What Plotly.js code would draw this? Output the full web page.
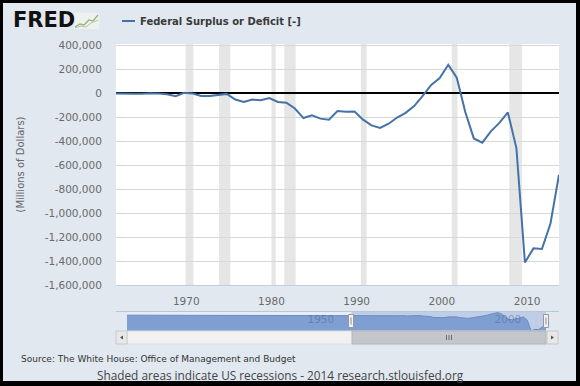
<!DOCTYPE html>
<html><head><meta charset="utf-8">
<script src="https://cdn.plot.ly/plotly-3.0.1.min.js"></script>
<style>html,body{margin:0;padding:0;background:#000;}#chart{width:580px;height:386px;}</style>
</head><body><div id="chart"></div>
<script>
const seriesName = 'Federal Surplus or Deficit [-]';
const yAxisTitle = '(Millions of Dollars)';
const sourceText = 'Source: The White House: Office of Management and Budget';
const footerText = 'Shaded areas indicate US recessions - 2014 research.stlouisfed.org';

// Fiscal years shown in the main chart
const years = [1961,1962,1963,1964,1965,1966,1967,1968,1969,1970,
  1971,1972,1973,1974,1975,1976,1977,1978,1979,1980,
  1981,1982,1983,1984,1985,1986,1987,1988,1989,1990,
  1991,1992,1993,1994,1995,1996,1997,1998,1999,2000,
  2001,2002,2003,2004,2005,2006,2007,2008,2009,2010,
  2011,2012,2013];
// Millions of dollars
const values = [-3335,-7146,-4756,-5915,-1411,-3698,-8643,-25161,3242,-2842,
  -23033,-23373,-14908,-6135,-53242,-73732,-53659,-59185,-40726,-73830,
  -78968,-127977,-207802,-185367,-212308,-221227,-149730,-155178,-152639,-221036,
  -269238,-290321,-255051,-203186,-163952,-107431,-21884,69270,125610,236241,
  128236,-157758,-377585,-412727,-318346,-248181,-160701,-458553,-1412688,-1294373,
  -1299599,-1087024,-680276];

// Earlier history shown only in the navigator strip
const earlyYears = [1901,1905,1910,1915,1919,1920,1925,1930,1935,1940,1942,1943,1944,1945,1946,1947,1950,1955,1959,1960];
const earlyValues = [63,-23,-18,-63,-13363,291,717,738,-2791,-2920,-20503,-54554,-47557,-47553,-15936,4018,-3119,-2993,-12849,301];

const recessionStarts = ['1969-12-01','1973-11-01','1980-01-01','1981-07-01','1990-07-01','2001-03-01','2007-12-01'];
const recessionEnds   = ['1970-11-01','1975-03-01','1980-07-01','1982-11-01','1991-03-01','2001-11-01','2009-06-01'];

const yTickValues = [400000,200000,0,-200000,-400000,-600000,-800000,-1000000,-1200000,-1400000,-1600000];
const xTickYears = [1970,1980,1990,2000,2010];
const navTickYears = [1950,2000];

// ---- geometry helpers (decoration only) ----
const W=580,H=386,ML=116,MR=21,MT=44,MB=41;
const PW=W-ML-MR, PH=H-MT-MB;
const fx = p => (p-ML)/PW;
const fy = p => (H-MB-p)/PH;
function rect(x0,y0,x1,y1,fill,line,layer){
  return {type:'rect',xref:'paper',yref:'paper',x0:fx(x0),x1:fx(x1),y0:fy(y1),y1:fy(y0),
    fillcolor:fill,line:line?{color:line,width:1}:{width:0},layer:layer||'above'};
}
function seg(x0,y0,x1,y1,color,w){
  return {type:'line',xref:'paper',yref:'paper',x0:fx(x0),y0:fy(y0),x1:fx(x1),y1:fy(y1),line:{color:color,width:w},layer:'above'};
}
function poly(pts,fill,color,w,closed){
  let d = pts.map((p,i)=>(i?'L':'M')+fx(p[0]).toFixed(5)+','+fy(p[1]).toFixed(5)).join(' ')+(closed?' Z':'');
  return {type:'path',xref:'paper',yref:'paper',path:d,fillcolor:fill||'rgba(0,0,0,0)',
    line:color?{color:color,width:w||1}:{width:0},layer:'above'};
}

const dateOf = y => y + '-10-01';
const mainDates = years.map(dateOf);
const mainRange = [mainDates[0], mainDates[mainDates.length-1]];
const navYears = earlyYears.concat(years);
const navValues = earlyValues.concat(values);
const navDates = navYears.map(dateOf);
const navRange = [navDates[0], navDates[navDates.length-1]];
const navMin = Math.min(...navValues), navMax = Math.max(...navValues);
const navSpan = navMax - navMin;
const navFloor = navMin - 0.01*navSpan, navTop = navMax + 0.03*navSpan;

const tickFont = {family:'DejaVu Sans', size:10.5, color:'#6a6a6a'};

const traces = [
  {x:mainDates, y:values, xaxis:'x', yaxis:'y', type:'scatter', mode:'lines', name:seriesName,
   line:{color:'#4572a7', width:2}, hoverinfo:'skip'},
  {x:navRange, y:[navFloor,navFloor], xaxis:'x2', yaxis:'y2', type:'scatter', mode:'lines',
   line:{width:0, color:'rgba(0,0,0,0)'}, hoverinfo:'skip', showlegend:false},
  {x:navDates, y:navValues, xaxis:'x2', yaxis:'y2', type:'scatter', mode:'lines', fill:'tonexty',
   fillcolor:'#7f9fd2', line:{color:'#6b8cc4', width:1}, hoverinfo:'skip', showlegend:false}
];

const shapes = [];
// recession bands
recessionStarts.forEach((s,i)=>{
  shapes.push({type:'rect', xref:'x', yref:'y domain', x0:s, x1:recessionEnds[i], y0:0, y1:1,
    fillcolor:'#e6e6e6', line:{width:0}, layer:'below'});
});
// navigator background & selected-range tint
shapes.push({type:'rect', xref:'x2 domain', yref:'y2 domain', x0:0, x1:1, y0:0, y1:1,
  fillcolor:'#e7edf5', line:{width:0}, layer:'below'});
shapes.push({type:'rect', xref:'x2', yref:'y2 domain', x0:mainRange[0], x1:mainRange[1], y0:0, y1:1,
  fillcolor:'rgba(102,133,194,0.3)', line:{width:0}, layer:'below'});
// navigator outline
shapes.push(seg(116,311.5,559,311.5,'#b9c6d6',1));
// handles
shapes.push(rect(348.5,314.5,353.5,327.5,'#f2f2f2','#999999'));
shapes.push(seg(351,317.5,351,324.5,'#8a8a8a',1));
shapes.push(rect(543.5,314.5,548.5,327.5,'#f2f2f2','#999999'));
shapes.push(seg(546,317.5,546,324.5,'#8a8a8a',1));
// scrollbar
shapes.push(rect(127,331,547,344,'#f1f1f1','#dddddd'));
shapes.push(rect(352,331,546,344,'#c3c6cb','#b3b6bb'));
shapes.push(seg(446.5,335,446.5,340,'#555',0.8));
shapes.push(seg(449,335,449,340,'#555',0.8));
shapes.push(seg(451.5,335,451.5,340,'#555',0.8));
shapes.push(rect(116,331,127,344,'#e8e8e8','#c8c8c8'));
shapes.push(poly([[123,335.5],[123,339.5],[120,337.5]],'#555',null,0,true));
shapes.push(rect(547,331,558,344,'#e8e8e8','#c8c8c8'));
shapes.push(poly([[551,335.5],[551,339.5],[554,337.5]],'#555',null,0,true));
// legend sample line
shapes.push(seg(122,21,135,21,'#4572a7',2));
// FRED logo icon
shapes.push(rect(74,13,99,29,'#eef1ec',null));
shapes.push(poly([[75,27],[80,24],[84,25],[89,20],[93,21],[98,15]],null,'#8fb57a',1.2,false));
shapes.push(poly([[75,28],[81,26],[86,27],[91,23],[98,20]],null,'#b5c6ad',1,false));
// black frame
shapes.push(rect(0,0,580,3,'#000',null));
shapes.push(rect(0,381,580,386,'#000',null));
shapes.push(rect(0,0,3,386,'#000',null));
shapes.push(rect(576,0,580,386,'#000',null));

const annotations = [
  {text:'<b>FRED</b>', xref:'paper', yref:'paper', x:fx(11), y:fy(20.5), xanchor:'left', yanchor:'middle',
   showarrow:false, font:{family:'DejaVu Sans', size:21, color:'#111111'}},
  {text:'<b>'+seriesName+'</b>', xref:'paper', yref:'paper', x:fx(138), y:fy(21), xanchor:'left', yanchor:'middle',
   showarrow:false, font:{family:'DejaVu Sans', size:10, color:'#3a3a3a'}},
  {text:sourceText, xref:'paper', yref:'paper', x:fx(19), y:fy(359), xanchor:'left', yanchor:'middle',
   showarrow:false, font:{family:'DejaVu Sans', size:9, color:'#333333'}},
  {text:footerText, xref:'paper', yref:'paper', x:fx(280.5), y:fy(374.5), xanchor:'center', yanchor:'middle',
   showarrow:false, font:{family:'Open Sans', size:11.8, color:'#444444'}}
];

const layout = {
  width:W, height:H, margin:{l:ML, r:MR, t:MT, b:MB, pad:0},
  paper_bgcolor:'#e1e8f0', plot_bgcolor:'#ffffff', showlegend:false,
  xaxis:{type:'date', domain:[0,1], anchor:'y', range:mainRange,
    tickvals:xTickYears.map(y=>y+'-01-01'), ticktext:xTickYears.map(String),
    ticks:'outside', ticklen:6, tickcolor:'rgba(0,0,0,0)', showgrid:false, zeroline:false,
    showline:true, linecolor:'#c0d0e0', linewidth:1, tickfont:tickFont, fixedrange:true},
  yaxis:{domain:[fy(285),1], anchor:'x', range:[-1600000,410000],
    tickvals:yTickValues, ticktext:yTickValues.map(v=>v.toLocaleString('en-US')),
    ticks:'outside', ticklen:11, tickcolor:'rgba(0,0,0,0)',
    showgrid:true, gridcolor:'#d8d8d8', gridwidth:1,
    zeroline:true, zerolinecolor:'#000000', zerolinewidth:2,
    tickfont:tickFont, fixedrange:true,
    title:{text:yAxisTitle, standoff:18, font:{family:'DejaVu Sans', size:10, color:'#666666'}}},
  xaxis2:{type:'date', domain:[fx(127),fx(546)], anchor:'y2', range:navRange,
    tickvals:navTickYears.map(y=>y+'-01-01'), ticktext:navTickYears.map(String),
    ticklabelposition:'inside right', ticks:'', showgrid:false, zeroline:false, showline:false,
    tickfont:{family:'DejaVu Sans', size:10.5, color:'rgba(70,90,130,0.45)'}, fixedrange:true},
  yaxis2:{domain:[fy(331),fy(312)], anchor:'x2', range:[navFloor,navTop], visible:false, fixedrange:true},
  shapes:shapes, annotations:annotations
};

Plotly.newPlot('chart', traces, layout, {staticPlot:true, displayModeBar:false});
</script>
</body></html>
